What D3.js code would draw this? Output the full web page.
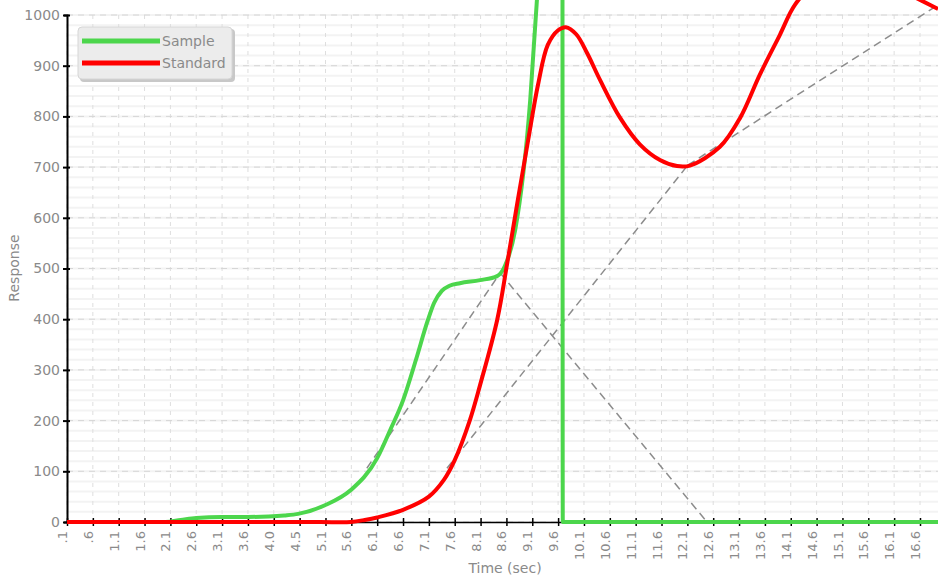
<!DOCTYPE html>
<html>
<head>
<meta charset="utf-8">
<script src="https://cdn.jsdelivr.net/npm/d3@7"></script>
<style>
  body { margin: 0; background: #fff; }
  svg text { font-family: "DejaVu Sans", sans-serif; fill: #8a8a8a; }
</style>
</head>
<body>
<div id="chart"></div>
<script>
// sample (green) response, time in sec
var sampleTime  = [0.1, 2.0, 2.3, 2.6, 3.1, 3.6, 4.0, 4.3, 4.57, 5.09, 5.59, 6.1, 6.35, 6.6, 6.85, 7.08, 7.2, 7.35, 7.5, 7.7, 8.09, 8.42, 8.57, 8.77, 9.06, 9.19, 9.4, 9.68, 9.69, 16.95];
var sampleValue = [0, 0, 4, 8, 10, 10, 11, 13, 16, 33, 63, 126, 181, 240, 320, 398, 432, 456, 466, 471, 477, 485, 505, 576, 832, 1030, 1400, 1800, 0, 0];

// standard (red) response
var standardTime  = [0.1, 2.0, 4.0, 5.0, 5.59, 5.86, 6.1, 6.6, 7.1, 7.39, 7.6, 7.89, 8.09, 8.42, 8.61, 8.82, 9.02, 9.21, 9.4, 9.6, 9.75, 9.95, 10.16, 10.41, 10.8, 11.18, 11.57, 11.9, 12.15, 12.73, 13.12, 13.5, 13.89, 14.18, 14.6, 15.2, 15.8, 16.4, 16.95];
var standardValue = [0, 0, 0, 0, 0, 4, 9, 24, 50, 83, 122, 200, 270, 398, 507, 635, 753, 862, 941, 970, 976, 962, 925, 872, 797, 745, 714, 702, 703, 740, 797, 882, 961, 1020, 1065, 1085, 1070, 1040, 1012];

// tangent construction lines [t1, v1, t2, v2]
var tangentLines = [
  [5.90, 106, 8.48, 491],
  [8.48, 491, 12.48, 0],
  [7.45, 106, 12.11, 704],
  [12.11, 704, 16.95, 1020]
];

var tickTimes  = [0.1, 0.6, 1.1, 1.6, 2.1, 2.6, 3.1, 3.6, 4.1, 4.6, 5.1, 5.6, 6.1, 6.6, 7.1, 7.6, 8.1, 8.6, 9.1, 9.6, 10.1, 10.6, 11.1, 11.6, 12.1, 12.6, 13.1, 13.6, 14.1, 14.6, 15.1, 15.6, 16.1, 16.6];
var tickLabels = [".1", ".6", "1.1", "1.6", "2.1", "2.6", "3.1", "3.6", "4.0", "4.5", "5.1", "5.6", "6.1", "6.6", "7.1", "7.6", "8.1", "8.6", "9.1", "9.6", "10.1", "10.6", "11.1", "11.6", "12.1", "12.6", "13.1", "13.6", "14.1", "14.6", "15.1", "15.6", "16.1", "16.6"];
var yTicks = [0, 100, 200, 300, 400, 500, 600, 700, 800, 900, 1000];
var yMinor = d3.range(0, 1001, 20);

var series = [
  {name: "Sample", color: "#4cd64c", t: sampleTime, v: sampleValue, curve: d3.curveMonotoneX},
  {name: "Standard", color: "#ff0000", t: standardTime, v: standardValue, curve: d3.curveCatmullRom.alpha(0.5)}
];

var width = 938, height = 581;

var svg = d3.select("#chart").append("svg")
    .attr("width", width)
    .attr("height", height);

var x = d3.scaleLinear().domain([0.1, 16.6]).range([67, 920]);
var y = d3.scaleLinear().domain([0, 1000]).range([522, 15]);

svg.append("clipPath").attr("id", "plot")
    .append("rect").attr("x", 67).attr("y", -50).attr("width", width - 67).attr("height", 600);

// grid
var grid = svg.append("g");
grid.selectAll("line.minor")
    .data(yMinor)
    .enter().append("line")
    .attr("x1", 67).attr("x2", width)
    .attr("y1", function(d) { return y(d); })
    .attr("y2", function(d) { return y(d); })
    .attr("stroke", "#f3f3f3")
    .attr("stroke-width", 2);
grid.selectAll("line.vert")
    .data(tickTimes)
    .enter().append("line")
    .attr("x1", function(d) { return x(d); })
    .attr("x2", function(d) { return x(d); })
    .attr("y1", y(1000)).attr("y2", y(0))
    .attr("stroke", "#dedede")
    .attr("stroke-dasharray", "4,5");
grid.selectAll("line.major")
    .data(yTicks)
    .enter().append("line")
    .attr("x1", 67).attr("x2", width)
    .attr("y1", function(d) { return y(d); })
    .attr("y2", function(d) { return y(d); })
    .attr("stroke", "#d6d6d6")
    .attr("stroke-dasharray", "6,5");

// axes
var xAxis = svg.append("g")
    .attr("transform", "translate(0," + y(0) + ")")
    .call(d3.axisBottom(x).tickValues(tickTimes).tickSize(4).tickSizeOuter(0)
        .tickFormat(function(d, i) { return tickLabels[i]; }));
xAxis.select(".domain").attr("stroke", "#000").attr("stroke-width", 1.5);
xAxis.selectAll(".tick line").attr("stroke", "#000").attr("y1", -4).attr("stroke-width", 1.5);
xAxis.selectAll(".tick text")
    .attr("font-size", 13)
    .attr("text-anchor", "end")
    .attr("transform", "rotate(-90)")
    .attr("x", -9).attr("y", -5).attr("dy", "0.35em");

var yAxis = svg.append("g")
    .attr("transform", "translate(67,0)")
    .call(d3.axisLeft(y).tickValues(yTicks).tickSize(4).tickSizeOuter(3).tickFormat(d3.format("d")));
yAxis.select(".domain").attr("stroke", "#000").attr("stroke-width", 2);
yAxis.selectAll(".tick line").attr("stroke", "#000").attr("x2", 3).attr("x1", -4).attr("stroke-width", 2);
yAxis.selectAll(".tick text").attr("font-size", 14).attr("x", -7);

svg.append("text")
    .attr("x", 505).attr("y", 573)
    .attr("text-anchor", "middle")
    .attr("font-size", 14)
    .text("Time (sec)");

svg.append("text")
    .attr("transform", "translate(19,268)rotate(-90)")
    .attr("text-anchor", "middle")
    .attr("font-size", 14)
    .text("Response");

// tangent lines
var plot = svg.append("g").attr("clip-path", "url(#plot)");
plot.selectAll("line.tan")
    .data(tangentLines)
    .enter().append("line")
    .attr("x1", function(d) { return x(d[0]); })
    .attr("y1", function(d) { return y(d[1]); })
    .attr("x2", function(d) { return x(d[2]); })
    .attr("y2", function(d) { return y(d[3]); })
    .attr("stroke", "#8c8c8c")
    .attr("stroke-width", 1.5)
    .attr("stroke-dasharray", "8,5");

plot.selectAll("path.series")
    .data(series)
    .enter().append("path")
    .attr("fill", "none")
    .attr("stroke", function(d) { return d.color; })
    .attr("stroke-width", 4)
    .attr("d", function(d) {
        var line = d3.line()
            .x(function(p) { return x(p[0]); })
            .y(function(p) { return y(p[1]); })
            .curve(d.curve);
        return line(d.t.map(function(t, i) { return [t, d.v[i]]; }));
    });

// legend
var legend = svg.append("g").attr("transform", "translate(78,27)");
legend.append("rect")
    .attr("x", 2).attr("y", 2).attr("width", 155).attr("height", 53).attr("rx", 4)
    .attr("fill", "#c8c8c8");
legend.append("rect")
    .attr("width", 154).attr("height", 52).attr("rx", 4)
    .attr("fill", "#ececec").attr("stroke", "#d6d6d6");
var item = legend.selectAll("g.item")
    .data(series)
    .enter().append("g")
    .attr("transform", function(d, i) { return "translate(4," + (14 + i * 22) + ")"; });
item.append("line")
    .attr("x1", 0).attr("x2", 78)
    .attr("stroke", function(d) { return d.color; })
    .attr("stroke-width", 5);
item.append("text")
    .attr("x", 80).attr("dy", "0.35em")
    .attr("font-size", 14)
    .attr("fill", "#7a7a7a")
    .text(function(d) { return d.name; });
</script>
</body>
</html>
